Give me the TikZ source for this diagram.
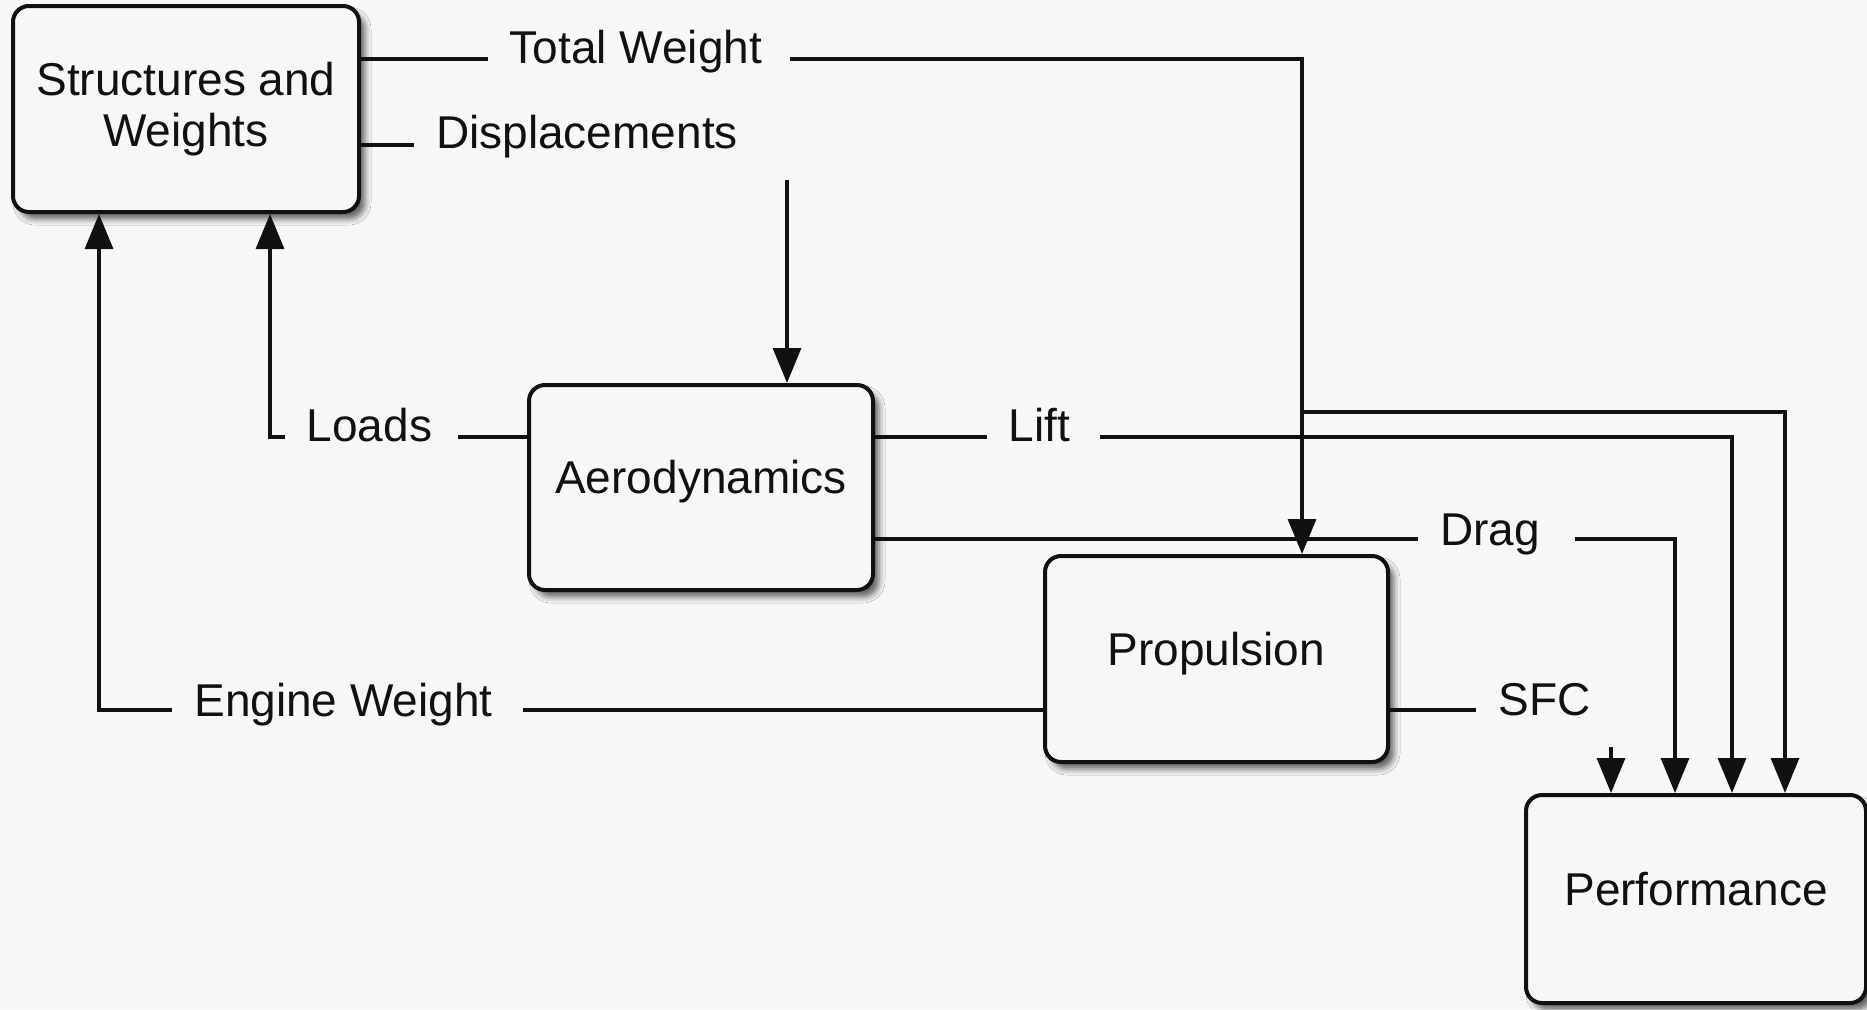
\documentclass[tikz,border=0pt]{standalone}
\usepackage{fontspec}
\setmainfont{Liberation Sans}
\usetikzlibrary{arrows.meta,shadows.blur}
\definecolor{bg}{HTML}{F7F7F7}
\definecolor{ink}{HTML}{111111}
\begin{document}
\begin{tikzpicture}[x=1pt,y=-1pt,
  txt/.style={font=\fontsize{46}{51}\selectfont, text=ink},
  box/.style={txt, draw=ink, line width=4pt, fill=bg, rounded corners=16pt, inner sep=0pt, align=center,
    blur shadow={shadow xshift=6pt, shadow yshift=-7pt, shadow blur radius=6pt, shadow opacity=60}},
  onebox/.style={box, text height=34pt, text depth=22pt},
  conn/.style={draw=ink, line width=3.3pt},
  arr/.style={conn, -{Triangle[length=35pt,width=28pt]}},
  lbl/.style={txt, fill=bg, inner xsep=22pt, inner ysep=2pt, anchor=base},
]
\fill[bg] (0,0) rectangle (1867,1009);
\useasboundingbox (0,0) rectangle (1867,1009);

% boxes
\node[box, minimum width=346pt, minimum height=206pt] (sw) at (186,109) {Structures and\\Weights};
\node[onebox, minimum width=344pt, minimum height=205pt] (aero) at (701,487.5) {Aerodynamics};
\node[onebox, minimum width=343pt, minimum height=206pt] (prop) at (1216.5,659) {Propulsion};
\node[onebox, minimum width=340pt, minimum height=208pt] (perf) at (1696,899) {Performance};

% free ends
\coordinate (dispin) at (787,180);
\coordinate (br) at (1302,412);
\coordinate (sfcin) at (1611,747);

% connectors
\draw[arr] (sw.east |- 0,59) -| (prop.north -| 1302,0);
\draw[arr] (br) -| (perf.north -| 1785,0);
\draw[arr] (aero.east |- 0,437) -| (perf.north -| 1732,0);
\draw[arr] (aero.east |- 0,539) -| (perf.north -| 1675,0);
\draw[arr] (sfcin) -- (perf.north -| sfcin);
\draw[arr] (dispin) -- (aero.north -| dispin);
\draw[arr] (aero.west |- 0,437) -| (sw.south -| 270,0);
\draw[arr] (prop.west |- 0,710) -| (sw.south -| 99,0);

% labels
\node[lbl] (tw) at (639,63) {Total Weight\kern6pt};
\node[lbl] (disp) at (587,148) {Displacements};
\node[lbl] (loads) at (371.5,441) {Loads\kern4pt};
\node[lbl] (lift) at (1043.5,441) {Lift\kern8pt};
\node[lbl] (drag) at (1496.5,545) {Drag\kern13pt};
\node[lbl] (sfc) at (1544.5,715) {SFC};
\node[lbl] (ew) at (347.5,716) {Engine Weight\kern8pt};

\draw[conn] (sw.east |- 0,145) -- (disp.west |- 0,145);
\draw[conn] (prop.east |- 0,710) -- (sfc.west |- 0,710);
\end{tikzpicture}
\end{document}
